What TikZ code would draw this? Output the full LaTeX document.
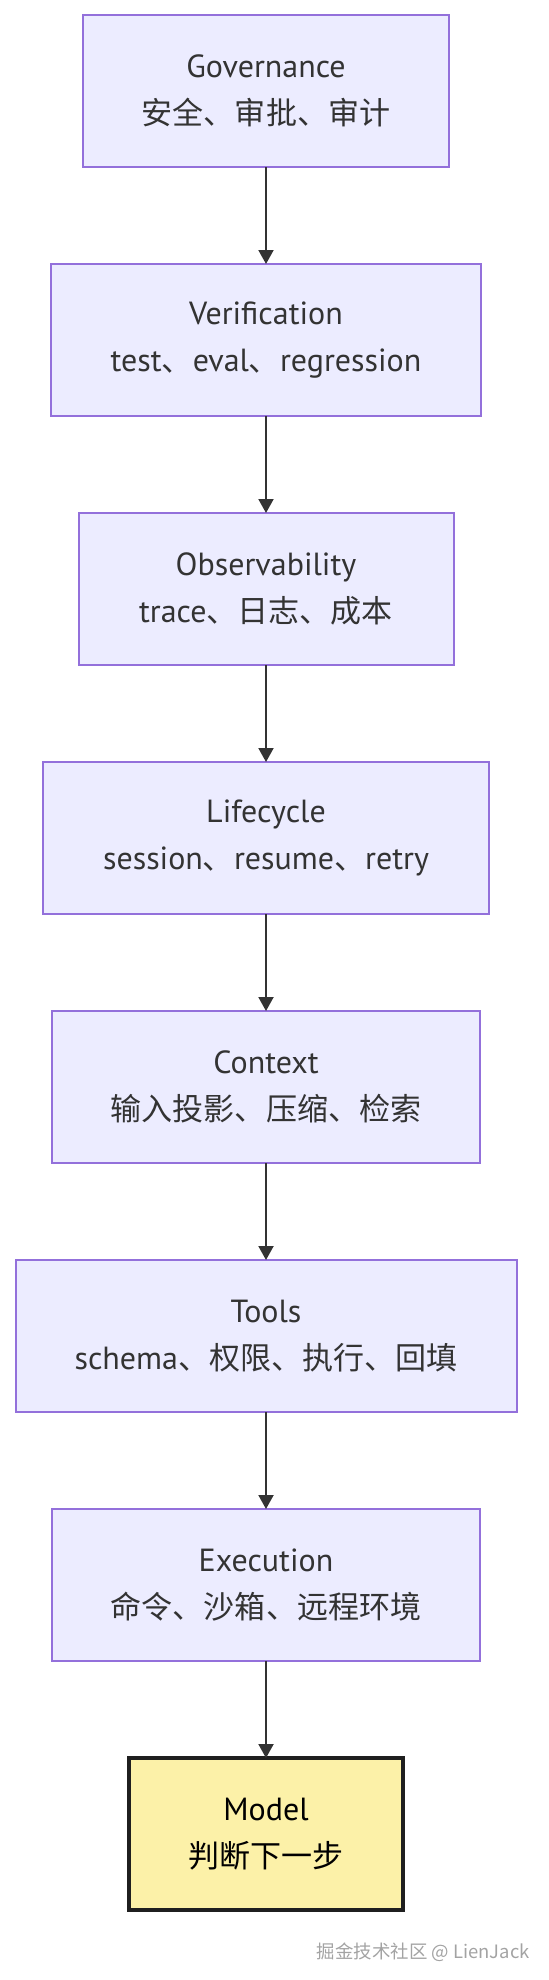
\documentclass[tikz,border=0pt]{standalone}
\usepackage{fontspec}
\setmainfont{PT Sans}
\newfontfamily\cjkfont[Scale=0.97]{Noto Sans CJK SC}
\newcommand{\zh}[1]{{\cjkfont #1}}
\usepackage{xcolor}
\usepackage{tikz}
\usetikzlibrary{arrows.meta,positioning}
\definecolor{layerfill}{HTML}{ECECFF}
\definecolor{layerline}{HTML}{9370DB}
\definecolor{modelfill}{HTML}{FCF1A8}
\definecolor{modelline}{HTML}{1F1F1F}
\definecolor{textgray}{HTML}{333333}
\definecolor{markgray}{HTML}{A3A3A3}

\begin{document}
\begin{tikzpicture}[
  x=1pt, y=1pt,
  node distance=48.5pt,
  layer/.style={draw=layerline, line width=1pt, fill=layerfill, minimum height=76pt, inner xsep=0pt, outer sep=0pt, align=center, text=textgray, font=\fontsize{16}{23.5}\selectfont},
  model/.style={layer, draw=modelline, line width=1.6pt, fill=modelfill, text=black},
  arr/.style={-{Triangle[length=7pt, width=7.5pt]}, line width=1pt, textgray}
]
  \useasboundingbox (0,0) rectangle (274,-990);

  \node[layer, minimum width=183pt] (governance) at (133,-45.5) {Governance\\\zh{安全、审批、审计}};
  \node[layer, minimum width=215pt, below=of governance] (verification) {Verification\\test\zh{、}eval\zh{、}regression};
  \node[layer, minimum width=187.5pt, below=of verification] (observability) {Observability\\trace\zh{、日志、成本}};
  \node[layer, minimum width=223pt, below=of observability] (lifecycle) {Lifecycle\\session\zh{、}resume\zh{、}retry};
  \node[layer, minimum width=214pt, below=of lifecycle] (context) {Context\\\zh{输入投影、压缩、检索}};
  \node[layer, minimum width=250.5pt, below=of context] (tools) {Tools\\schema\zh{、权限、执行、回填}};
  \node[layer, minimum width=214pt, below=of tools] (execution) {Execution\\\zh{命令、沙箱、远程环境}};
  \node[model, minimum width=137pt, below=of execution] (model) {Model\\\zh{判断下一步}};

  \draw[arr] (governance) -- (verification);
  \draw[arr] (verification) -- (observability);
  \draw[arr] (observability) -- (lifecycle);
  \draw[arr] (lifecycle) -- (context);
  \draw[arr] (context) -- (tools);
  \draw[arr] (tools) -- (execution);
  \draw[arr] (execution) -- (model);

  \node[anchor=east, inner sep=0pt, text=markgray, font=\cjkfont\fontsize{9.5}{11}\selectfont] (watermark) at (265,-976) {掘金技术社区 @ LienJack};
\end{tikzpicture}
\end{document}
